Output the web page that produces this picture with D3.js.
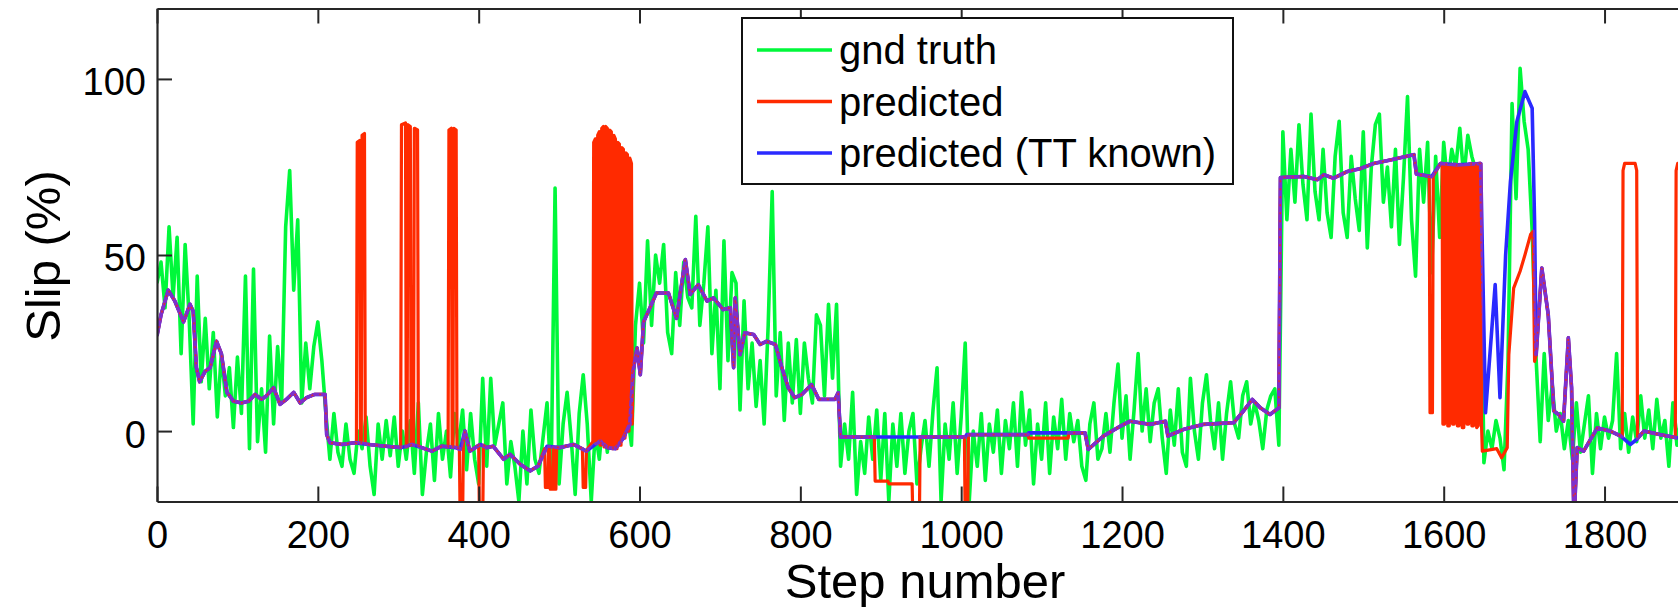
<!DOCTYPE html>
<html>
<head>
<meta charset="utf-8">
<title>Slip vs step number</title>
<script src="https://cdn.jsdelivr.net/npm/d3@7"></script>
<style>
  html, body { margin: 0; padding: 0; background: #fff; overflow: hidden; }
  svg { display: block; font-family: "Liberation Sans", Arial, Helvetica, sans-serif; }
</style>
</head>
<body>
<div id="chart"></div>
<script>
/* Slip (%) per step: ground truth against the two predictors. */

// ground truth, one reading every gndEvery steps from step 0
var gndEvery = 5;
var gndTruth = [
  42, 48, 35, 58, 38, 55, 22, 53, 32, 2, 44, 14, 32, 12, 28, 4, 22, 10, 18, 1,
  21, 5, 44, -5, 46, -3, 12, -6, 27, 2, 24, 8, 58, 74, 40, 60, 8, 25, 12, 24,
  31, 20, 5, -8, 5, -6, -10, 2, -8, -12, 0, -5, 4, -10, -18, 2, -8, 3, -7, 4,
  -10, 0, -8, 3, -12, 8, -18, -6, 2, -14, 5, -8, 0, -13, 5, -4, 6, -11, 5, -8,
  -15, 15, -10, 15, -4, 2, 8, -15, -3, -10, -20, 0, -15, 6, -8, -12, -2, 8, -14, 69,
  -15, 2, 11, -2, -18, 5, 16, 2, -20, 0, -8, 5, -6, 8, -4, 5, -2, 5, -4, 30,
  42, 25, 54, 30, 50, 42, 53, 28, 22, 45, 30, 48, 38, 35, 61, 30, 42, 58, 22, 40,
  12, 54, 20, 45, 42, 6, 37, 12, 25, 7, 20, 2, 30, 68, 10, 28, 3, 25, 8, 26,
  5, 25, 15, 8, 33, 30, 10, 36, 15, 36, -10, 2, -8, 11, -18, -3, -12, 4, -8, 6,
  -14, 5, -20, 2, -10, 5, -12, 0, 5, -15, -5, 3, -10, 6, 18, -20, 2, -8, 8, -12,
  4, 25, -20, 0, -10, 5, -14, 2, -6, 6, -12, 3, -5, 8, -10, 11, -4, 6, -15, 2,
  -8, 8, -12, 4, -5, 9, -8, 5, -3, 3, -10, -14, 2, 8, -8, -5, 5, -6, 8, 19,
  -2, 10, -8, 6, 22, 0, 12, -3, 8, 12, -2, -12, 6, -4, 12, -6, -10, 15, 0, -8,
  8, 16, 3, -5, 8, -8, 5, 14, 2, -2, 10, 14, 2, 8, 3, -5, 6, 10, 12, -4,
  85, 60, 80, 65, 87, 70, 60, 90, 68, 60, 80, 62, 55, 78, 88, 62, 55, 78, 66, 57,
  85, 52, 75, 87, 90, 65, 75, 58, 80, 53, 72, 95, 60, 44, 80, 65, 82, 45, 78, 55,
  82, 70, 80, 75, 86, 72, 84, 78, 74, 73, -9, 0, -5, 3, -2, -11, 20, 93, 66, 103,
  88, 80, 57, 20, -3, 22, 3, 13, 0, 5, -5, 3, -8, 8, -6, 2, 10, -12, 5, -5,
  4, -2, 3, 22, -5, 5, -6, 4, -3, 10, -2, 6, -5, 9, -2, 3, -10, 8, -4, 5
];

// [step, slip] — prediction with terrain type known
var predictedTT = [
  [0, 27], [5, 33], [14, 40], [22, 37], [33, 31], [41, 36], [45, 34], [49, 18], [53, 14], [60, 17],
  [66, 18], [74, 25.5], [80, 22], [87, 11], [95, 8.5], [105, 8], [114, 8.5], [122, 10.4], [130, 9],
  [136, 10], [145, 12.3], [153, 7.6], [161, 9], [170, 11], [178, 8], [186, 9.5], [196, 10.4],
  [209, 10.4], [211, -1], [215, -3.3], [230, -3.8], [246, -3.3], [263, -3.8], [284, -4.3],
  [304, -4.7], [317, -3.8], [329, -4.7], [342, -5.7], [354, -4.3], [371, -4.7], [377, -5.2],
  [383, 0], [389, -5.7], [402, -3.8], [410, -4.7], [418, -4.3], [431, -8], [439, -6.6],
  [452, -9.5], [464, -11.3], [474, -9.9], [485, -4.3], [501, -4.7], [518, -3.8], [534, -5.7],
  [551, -2.8], [560, -4.7], [570, -5], [580, -2], [588, 2], [592, 17], [597, 23.6], [601, 16],
  [605, 31], [613, 35], [621, 39.2], [636, 39.2], [646, 32], [657, 48.7], [663, 38.8],
  [673, 41.6], [684, 36.9], [692, 37.8], [704, 34.5], [713, 35], [717, 18], [719, 37.8],
  [725, 21.7], [731, 27.9], [742, 27.4], [750, 24.6], [758, 25.5], [769, 24.6], [777, 18],
  [785, 12.3], [793, 9.5], [802, 10.4], [814, 13.2], [823, 9], [843, 9], [847, 10.9],
  [850, -1.7], [1005, -1.7], [1007, -1], [1083, -1], [1084, -0.5], [1154, -0.5], [1158, -5.2],
  [1177, -1.4], [1198, 1.4], [1210, 2.8], [1235, 1.9], [1254, 2.8], [1257, -1.4], [1277, 0.5],
  [1301, 1.9], [1339, 2.4], [1351, 5.7], [1362, 9], [1372, 6.6], [1384, 4.7], [1395, 6.6],
  [1397, 72], [1426, 72.3], [1443, 71.4], [1451, 72.8], [1463, 71.8], [1480, 73.7],
  [1496, 74.5], [1513, 76], [1534, 77], [1561, 78.4], [1563, 78.5], [1566, 73], [1585, 72.3],
  [1596, 76], [1617, 75.6], [1646, 76], [1652, 5.2], [1664, 41.6], [1670, 9.5], [1677, 50],
  [1683, 70.9], [1691, 87.9], [1701, 96.4], [1710, 91.7], [1713, 59.5], [1715, 21.7],
  [1722, 46.3], [1730, 33], [1737, 5.7], [1743, 4.7], [1749, 2.8], [1755, 26.5], [1759, 12.3],
  [1762, -26], [1766, -4.7], [1774, -5.7], [1791, 0.9], [1807, 0], [1820, -1.4], [1832, -3.8],
  [1840, -2.4], [1849, 0], [1869, -1], [1890, -1.9], [1900, -1.9]
];

// [step, slip] — prediction
var predicted = [
  [0, 27], [5, 33], [14, 40], [22, 37], [33, 31], [41, 36], [45, 34], [49, 18], [53, 14], [60, 17],
  [66, 18], [74, 25.5], [80, 22], [87, 11], [95, 8.5], [105, 8], [114, 8.5], [122, 10.4], [130, 9],
  [136, 10], [145, 12.3], [153, 7.6], [161, 9], [170, 11], [178, 8], [186, 9.5], [196, 10.4],
  [209, 10.4], [211, -1], [215, -3.3], [230, -3.8], [246, -3.3],
  [248, -3.4], [249, 82], [252, 82.5], [253, -3.4], [254, -3.4], [255, 84], [258, 84.5], [259, -3.5],
  [263, -3.8], [284, -4.3], [303, -4.7],
  [304, 87], [309, 87.5], [310, -4.5], [311, -4.5], [312, 87], [315, 86.5], [316, -4], [317, -3.8],
  [319, -4], [320, 86], [324, 85.5], [325, -4.2],
  [329, -4.7], [342, -5.7], [354, -4.3], [362, -4.5],
  [363, 85.5], [366, 86], [367, -4.6], [368, -4.6], [369, 86], [372, 85.5], [373, -4.7],
  [376, -5], [377, -26], [380, -26], [381, -3], [383, 0], [389, -5.7], [400, -4], [401, -26],
  [405, -26], [406, -4], [410, -4.7], [418, -4.3], [431, -8], [439, -6.6], [452, -9.5],
  [464, -11.3], [474, -9.9], [482, -5],
  [483, -16], [486, -16], [487, -4.5], [488, -4.5], [489, -16.5], [492, -16.5], [493, -4.6],
  [494, -16.5], [496, -16.5], [497, -4.6],
  [501, -4.7], [518, -3.8], [529, -5], [530, -16], [533, -16], [534, -5.5], [542, -3],
  [543, 82], [545, 83], [546, -3.5], [547, -3.5], [548, 84], [550, 85], [551, -4], [552, -4],
  [553, 86], [555, 86.5], [556, -4.5], [557, -4.5], [558, 86.5], [560, 86], [561, -4.7],
  [562, -4.7], [563, 85.5], [565, 85], [566, -5], [567, -5], [568, 84], [570, 83], [571, -5],
  [572, -5], [573, 82], [575, 81.5], [576, -4], [577, -4], [578, 80.5], [580, 80], [581, -2],
  [582, -2], [583, 79], [585, 78.5], [586, 0], [587, 0], [588, 77.5], [590, 76], [591, 2],
  [592, 17], [597, 23.6], [601, 16], [605, 31], [613, 35], [621, 39.2], [636, 39.2], [646, 32],
  [657, 48.7], [663, 38.8], [673, 41.6], [684, 36.9], [692, 37.8], [704, 34.5], [713, 35],
  [717, 18], [719, 37.8], [725, 21.7], [731, 27.9], [742, 27.4], [750, 24.6], [758, 25.5],
  [769, 24.6], [777, 18], [785, 12.3], [793, 9.5], [802, 10.4], [814, 13.2], [823, 9],
  [843, 9], [847, 10.9], [850, -1.7],
  [892, -1.7], [893, -14.2], [909, -14.2], [910, -15], [939, -15], [940, -26], [948, -26],
  [949, -1.7], [1004, -1.7], [1005, -26], [1008, -26], [1009, -1], [1083, -1], [1084, -2],
  [1133, -2], [1134, -0.5], [1154, -0.5], [1158, -5.2],
  [1177, -1.4], [1198, 1.4], [1210, 2.8], [1235, 1.9], [1254, 2.8], [1257, -1.4], [1277, 0.5],
  [1301, 1.9], [1339, 2.4], [1351, 5.7], [1362, 9], [1372, 6.6], [1384, 4.7], [1395, 6.6],
  [1397, 72], [1426, 72.3], [1443, 71.4], [1451, 72.8], [1463, 71.8], [1480, 73.7],
  [1496, 74.5], [1513, 76], [1534, 77], [1561, 78.4], [1563, 78.5], [1566, 73], [1582, 72.3],
  [1583, 5.2], [1586, 5.2], [1587, 72.4], [1596, 76], [1598, 76],
  [1599, 2], [1601, 2], [1602, 76], [1604, 75.5], [1605, 1.5], [1607, 1.5], [1608, 75.5],
  [1610, 75.5], [1611, 2], [1613, 2], [1614, 75.8], [1616, 75.6], [1617, 1.5], [1619, 1.5],
  [1620, 75.6], [1622, 75.5], [1623, 1], [1625, 1], [1626, 75.5], [1628, 75.6], [1629, 2],
  [1631, 2], [1632, 75.8], [1634, 76], [1635, 1.5], [1637, 1.5], [1638, 76], [1640, 75.8],
  [1641, 1], [1643, 1.5], [1644, 76], [1646, 76], [1647, 2],
  [1648, -5.7], [1666, -5], [1672, -7.6], [1679, -4.7], [1681, 21.7], [1687, 40.6],
  [1695, 45.4], [1701, 50], [1708, 55.8], [1711, 56.7], [1713, 19.8], [1715, 21.7],
  [1722, 46.3], [1730, 33], [1737, 5.7], [1743, 4.7], [1749, 2.8], [1755, 26.5], [1759, 12.3],
  [1762, -26], [1766, -4.7], [1774, -5.7], [1791, 0.9], [1807, 0], [1820, -1.4], [1822, -1.5],
  [1823, 74], [1825, 76], [1838, 76], [1840, 74], [1841, -2], [1849, 0], [1869, -1],
  [1888, -1.9], [1889, 74], [1891, 76], [1900, 76]
];

var xTicks = [0, 200, 400, 600, 800, 1000, 1200, 1400, 1600, 1800];
var yTicks = [0, 50, 100];
var seriesNames = ["gnd truth", "predicted", "predicted (TT known)"];

var GREEN = "#00f83a", RED = "#ff2a00", BLUE = "#2a2aff", PURPLE = "#7e30cc";

(function render() {
  var width = 1678, height = 607;
  var left = 157, right = 1693, top = 8.5, bottom = 501.5;

  var svg = d3.select("#chart").append("svg")
    .attr("width", width).attr("height", height)
    .attr("viewBox", "0 0 " + width + " " + height);

  var x = d3.scaleLinear().domain([0, 1910]).range([left, right]);
  var y = d3.scaleLinear().domain([-20, 120]).range([bottom, top]);

  var defs = svg.append("defs");
  defs.append("clipPath").attr("id", "plotClip").append("rect")
    .attr("x", left).attr("y", top).attr("width", right - left).attr("height", bottom - top);

  var line = d3.line()
    .x(function (d) { return x(d[0]); })
    .y(function (d) { return y(d[1]); });

  var gndLine = d3.line()
    .x(function (d, i) { return x(i * gndEvery); })
    .y(function (d) { return y(d); });

  /* where red sits on the blue line MATLAB shows purple; mask the red path by the blue stroke */
  var mask = defs.append("mask").attr("id", "ttMask")
    .attr("maskUnits", "userSpaceOnUse")
    .attr("x", 0).attr("y", 0).attr("width", width).attr("height", height);
  mask.append("path").datum(predictedTT)
    .attr("d", line).attr("fill", "none")
    .attr("stroke", "#fff").attr("stroke-width", 3.8).attr("stroke-linejoin", "round");

  var plot = svg.append("g").attr("clip-path", "url(#plotClip)");

  plot.append("path").datum(gndTruth)
    .attr("d", gndLine).attr("fill", "none")
    .attr("stroke", GREEN).attr("stroke-width", 3.6).attr("stroke-linejoin", "round");

  plot.append("path").datum(predictedTT)
    .attr("d", line).attr("fill", "none")
    .attr("stroke", BLUE).attr("stroke-width", 3.6).attr("stroke-linejoin", "round");

  plot.append("path").datum(predicted)
    .attr("d", line).attr("fill", "none")
    .attr("stroke", RED).attr("stroke-width", 3.2).attr("stroke-linejoin", "round");

  var overlap = plot.append("g").attr("mask", "url(#ttMask)");
  overlap.append("path").datum(predicted)
    .attr("d", line).attr("fill", "none")
    .attr("stroke", PURPLE).attr("stroke-width", 4).attr("stroke-linejoin", "round");
  overlap.append("path").datum(predicted)
    .attr("d", line).attr("fill", "none")
    .attr("stroke", RED).attr("stroke-width", 1.6).attr("stroke-opacity", 0.75)
    .attr("stroke-dasharray", "2 6");

  /* axes: MATLAB style, ticks inside, box on top */
  function styleAxis(g) {
    g.attr("font-family", null).attr("font-size", null);
    g.select(".domain").attr("stroke", "#262626").attr("stroke-width", 2.2);
    g.selectAll(".tick line").attr("stroke", "#262626").attr("stroke-width", 2);
    g.selectAll(".tick text").attr("fill", "#000").style("font-size", "38px");
  }

  svg.append("g").attr("transform", "translate(0," + bottom + ")")
    .call(d3.axisBottom(x).tickValues(xTicks).tickFormat(d3.format("d"))
      .tickSize(-15).tickSizeOuter(0).tickPadding(20))
    .call(styleAxis);

  svg.append("g").attr("transform", "translate(0," + top + ")")
    .call(d3.axisTop(x).tickValues(xTicks).tickSize(-15).tickSizeOuter(0).tickFormat(""))
    .call(styleAxis);

  svg.append("g").attr("transform", "translate(" + left + ",0)")
    .call(d3.axisLeft(y).tickValues(yTicks).tickFormat(d3.format("d"))
      .tickSize(-15).tickSizeOuter(0).tickPadding(11))
    .call(styleAxis)
    .selectAll(".tick text").attr("dy", "0.42em");

  svg.append("text")
    .attr("x", 925).attr("y", 598)
    .attr("text-anchor", "middle")
    .style("font-size", "49px")
    .text("Step number");

  svg.append("text")
    .attr("transform", "translate(60,256) rotate(-90)")
    .attr("text-anchor", "middle")
    .style("font-size", "49px")
    .text("Slip (%)");

  /* legend */
  var lg = svg.append("g").attr("transform", "translate(742,18)");
  lg.append("rect")
    .attr("width", 491).attr("height", 166)
    .attr("fill", "#fff").attr("stroke", "#111").attr("stroke-width", 2);
  var legendColors = [GREEN, RED, BLUE];
  var rows = lg.selectAll(".row").data(seriesNames).enter().append("g")
    .attr("transform", function (d, i) { return "translate(0," + (32 + i * 51.5) + ")"; });
  rows.append("line")
    .attr("x1", 15).attr("x2", 90).attr("y1", 0).attr("y2", 0)
    .attr("stroke", function (d, i) { return legendColors[i]; })
    .attr("stroke-width", 3.6);
  rows.append("text")
    .attr("x", 97).attr("y", 14)
    .style("font-size", "40px")
    .text(function (d) { return d; });
})();
</script>
</body>
</html>
